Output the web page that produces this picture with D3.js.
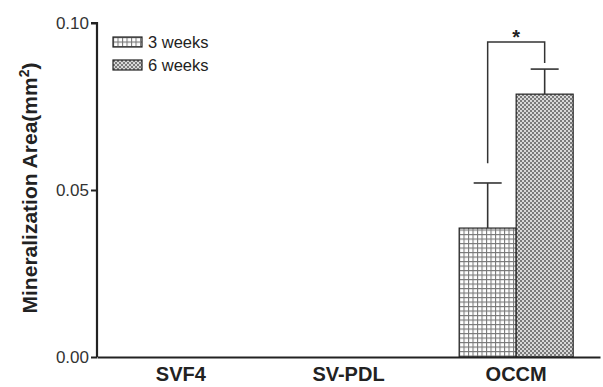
<!DOCTYPE html>
<html>
<head>
<meta charset="utf-8">
<script src="https://cdn.jsdelivr.net/npm/d3@7"></script>
<style>
  body { margin: 0; background: #fff; }
  text { font-family: "Liberation Sans", Arial, sans-serif; }
</style>
</head>
<body>
<div id="chart"></div>
<script>
const categories = ["SVF4", "SV-PDL", "OCCM"];
const seriesNames = ["3 weeks", "6 weeks"];
const weeks3 = [null, null, 0.0386];
const weeks6 = [null, null, 0.0787];
const err3 = [null, null, 0.0135];
const err6 = [null, null, 0.0075];
const yTicks = [0.00, 0.05, 0.10];

const width = 603, height = 387;
const margin = { top: 23, right: 3, bottom: 30, left: 97 };

const svg = d3.select("#chart").append("svg")
    .attr("width", width)
    .attr("height", height);

const defs = svg.append("defs");

// grid pattern for 3 weeks
const p1 = defs.append("pattern")
    .attr("id", "grid")
    .attr("width", 4.5).attr("height", 4.5)
    .attr("patternUnits", "userSpaceOnUse");
p1.append("rect").attr("width", 4.5).attr("height", 4.5).attr("fill", "#fff");
p1.append("path").attr("d", "M0 0.5 H4.5 M0.5 0 V4.5")
    .attr("stroke", "#777").attr("stroke-width", 1.1);

// checker pattern for 6 weeks
const p2 = defs.append("pattern")
    .attr("id", "checker")
    .attr("width", 4).attr("height", 4)
    .attr("patternUnits", "userSpaceOnUse");
p2.append("rect").attr("width", 4).attr("height", 4).attr("fill", "#d8d8d8");
p2.append("rect").attr("width", 2).attr("height", 2).attr("fill", "#7a7a7a");
p2.append("rect").attr("x", 2).attr("y", 2).attr("width", 2).attr("height", 2).attr("fill", "#7a7a7a");

const fills = ["url(#grid)", "url(#checker)"];

const x = d3.scaleBand()
    .domain(categories)
    .range([margin.left, width - margin.right])
    .paddingInner(0).paddingOuter(0);

const xInner = d3.scaleBand()
    .domain(seriesNames)
    .range([0, 114]);

const y = d3.scaleLinear()
    .domain([0, 0.10])
    .range([height - margin.bottom, margin.top]);

const g = svg.append("g");

// bars
const series = [weeks3, weeks6];
const errs = [err3, err6];
series.forEach((vals, si) => {
  categories.forEach((c, ci) => {
    const v = vals[ci];
    if (v == null) return;
    const cx = x(c) + x.bandwidth() / 2 - 57;
    const bx = cx + xInner(seriesNames[si]);
    g.append("rect")
        .attr("x", bx)
        .attr("y", y(v))
        .attr("width", xInner.bandwidth())
        .attr("height", y(0) - y(v))
        .attr("fill", fills[si])
        .attr("stroke", "#222")
        .attr("stroke-width", 1.2);
    const e = errs[si][ci];
    const mx = bx + xInner.bandwidth() / 2;
    g.append("line")
        .attr("x1", mx).attr("x2", mx)
        .attr("y1", y(v)).attr("y2", y(v + e))
        .attr("stroke", "#333").attr("stroke-width", 1.6);
    g.append("line")
        .attr("x1", mx - 14).attr("x2", mx + 14)
        .attr("y1", y(v + e)).attr("y2", y(v + e))
        .attr("stroke", "#333").attr("stroke-width", 1.6);
  });
});

// significance bracket
const occ = x("OCCM") + x.bandwidth() / 2 - 57;
const lx = occ + xInner("3 weeks") + xInner.bandwidth() / 2;
const rx = occ + xInner("6 weeks") + xInner.bandwidth() / 2;
g.append("path")
    .attr("d", `M${lx},${y(0.058)} V${y(0.0943)} H${rx} V${y(0.0880)}`)
    .attr("fill", "none").attr("stroke", "#333").attr("stroke-width", 1.5);
g.append("text")
    .attr("x", (lx + rx) / 2).attr("y", 44)
    .attr("text-anchor", "middle")
    .attr("font-size", 20).attr("font-weight", "bold").attr("fill", "#222")
    .text("*");

// y axis
const yAxis = g.append("g")
    .attr("transform", `translate(${margin.left},0)`)
    .call(d3.axisLeft(y).tickValues(yTicks).tickFormat(d3.format(".2f")).tickSize(6).tickPadding(2));
yAxis.select(".domain").attr("stroke", "#222").attr("stroke-width", 2.2)
    .attr("d", `M-6,${y(0.10)}H0V${y(0)}`);
yAxis.selectAll(".tick line").attr("stroke", "#222").attr("stroke-width", 2);
yAxis.selectAll(".tick text").attr("font-size", 17).attr("fill", "#333");

// x axis
const xAxis = g.append("g")
    .attr("transform", `translate(0,${y(0)})`)
    .call(d3.axisBottom(x).tickSize(0).tickPadding(10));
xAxis.select(".domain").attr("stroke", "#222").attr("stroke-width", 2.2);
xAxis.selectAll(".tick text").attr("font-size", 20).attr("font-weight", "bold")
    .attr("fill", "#222").attr("dy", "0.71em");

// y label
g.append("text")
    .attr("transform", `translate(37,${(y(0) + y(0.10)) / 2 - 2}) rotate(-90)`)
    .attr("text-anchor", "middle")
    .attr("font-size", 21).attr("font-weight", "bold").attr("fill", "#222")
    .html('Mineralization Area(mm<tspan dy="-8" font-size="14">2</tspan><tspan dy="8">)</tspan>');

// legend
const legend = g.append("g").attr("transform", "translate(113,37)");
seriesNames.forEach((s, i) => {
  const row = legend.append("g").attr("transform", `translate(0,${i * 23})`);
  row.append("rect")
      .attr("width", 29).attr("height", 10)
      .attr("fill", fills[i]).attr("stroke", "#222").attr("stroke-width", 1.2);
  row.append("text")
      .attr("x", 35).attr("y", 11)
      .attr("font-size", 16.5).attr("fill", "#222")
      .text(s);
});
</script>
</body>
</html>
